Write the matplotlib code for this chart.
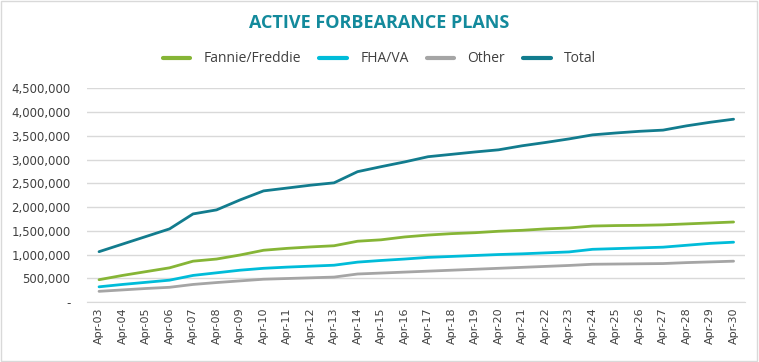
import matplotlib
matplotlib.use("Agg")
import matplotlib.pyplot as plt
from matplotlib.patches import Rectangle
from matplotlib.ticker import FuncFormatter

# Data
dates = ['Apr-%02d' % d for d in range(3, 31)]

fannie = [470000, 560000, 640000, 720000, 860000, 905000, 990000, 1090000,
          1130000, 1160000, 1185000, 1280000, 1310000, 1370000, 1410000, 1440000,
          1460000, 1490000, 1510000, 1540000, 1560000, 1600000, 1610000, 1615000,
          1625000, 1645000, 1665000, 1685000]
fha_va = [320000, 370000, 415000, 460000, 560000, 615000, 670000, 710000,
          735000, 755000, 775000, 840000, 875000, 905000, 940000, 960000,
          980000, 1000000, 1015000, 1035000, 1055000, 1110000, 1125000, 1140000,
          1155000, 1195000, 1235000, 1260000]
other = [225000, 255000, 285000, 310000, 370000, 410000, 445000, 480000,
         495000, 510000, 525000, 590000, 610000, 630000, 650000, 670000,
         690000, 710000, 730000, 750000, 770000, 795000, 800000, 805000,
         810000, 830000, 845000, 860000]
total = [1060000, 1220000, 1380000, 1540000, 1855000, 1940000, 2150000, 2340000,
         2400000, 2460000, 2510000, 2745000, 2850000, 2950000, 3060000, 3110000,
         3160000, 3205000, 3290000, 3360000, 3435000, 3520000, 3560000, 3595000,
         3620000, 3710000, 3785000, 3850000]

series = [
    ('Fannie/Freddie', fannie, '#86B536'),
    ('FHA/VA', fha_va, '#00BCD9'),
    ('Other', other, '#A5A5A5'),
    ('Total', total, '#127C8E'),
]

fig = plt.figure(figsize=(7.59, 3.62), dpi=100)
ax = fig.add_axes([0.115, 0.1657, 0.867, 0.5903])

x = list(range(len(dates)))
for name, vals, col in series:
    ax.plot(x, vals, color=col, linewidth=2.0, label=name, solid_capstyle='round')

ax.set_xlim(-0.5, len(dates) - 0.5)
ax.set_ylim(0, 4500000)
ax.set_yticks(range(0, 4500001, 500000))
ax.yaxis.set_major_formatter(FuncFormatter(lambda v, p: '-' if v == 0 else f'{int(v):,}'))
ax.set_xticks(x)
ax.set_xticklabels(dates, rotation=90)
ax.grid(axis='y', color='#D9D9D9', linewidth=1)
ax.set_axisbelow(True)
for s in ['top', 'right', 'left']:
    ax.spines[s].set_visible(False)
ax.spines['bottom'].set_color('#D9D9D9')
ax.tick_params(axis='both', length=0, labelsize=8, colors='#404040')
ax.tick_params(axis='y', labelsize=8.5, pad=12)
ax.tick_params(axis='x', pad=4)

fig.text(0.5, 1 - 23 / 362, 'ACTIVE FORBEARANCE PLANS', ha='center', va='center',
         fontsize=13, fontweight='bold', color='#138A9C', family='Open Sans')

leg = fig.legend(loc='center', bbox_to_anchor=(0.5, 1 - 59 / 362), ncol=4,
                 frameon=False, prop={'family': 'Open Sans', 'size': 10},
                 handlelength=2.0, columnspacing=1.3, handletextpad=0.95)
for t in leg.get_texts():
    t.set_color('#404040')
for h in leg.get_lines():
    h.set_linewidth(3)

fig.patches.append(Rectangle((0.001, 0.002), 0.997, 0.995, transform=fig.transFigure,
                             fill=False, edgecolor='#D9D9D9', linewidth=1))

fig.savefig('out.png', dpi=100)
